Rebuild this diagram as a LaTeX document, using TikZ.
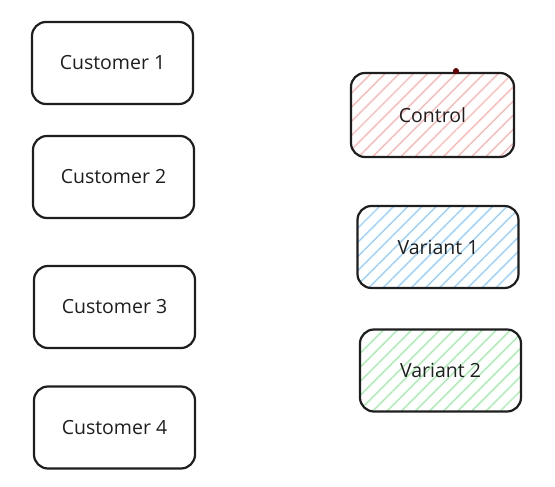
\documentclass[tikz,border=0pt]{standalone}
\usepackage{fontspec}
\setmainfont{Open Sans}
\usetikzlibrary{patterns.meta}
\definecolor{ink}{HTML}{1E1E1E}
\definecolor{redfill}{HTML}{FFB8B8}
\definecolor{bluefill}{HTML}{9AD2FF}
\definecolor{greenfill}{HTML}{A6EFB0}
\begin{document}
\begin{tikzpicture}[x=1pt,y=-1pt,
                box/.style={rectangle,rounded corners=14pt,draw=ink,line width=2.2pt,
                    minimum width=161pt,minimum height=82pt,font=\fontsize{19.5}{22}\selectfont,text=ink},
                hatched/.style={box,pattern={Lines[angle=45,distance=10pt,line width=1.4pt]},pattern color=#1}
            ]
                \useasboundingbox (0,0) rectangle (555,487);
                \foreach \i/\x/\y in {1/112.5/63,2/113.5/177,3/114.5/307,4/114.5/427.5}
                    {
                    \node[box] (cust\i) at (\x,\y) {Customer \i};
                }
                \node[hatched=redfill,minimum width=163pt,minimum height=84pt] (control) at (432.5,115) {Control};
                \node[hatched=bluefill] (var1) at (438,247) {Variant 1};
                \node[hatched=greenfill] (var2) at (440.5,370.5) {Variant 2};
                \fill[red!40!black] (456,71) circle (3pt);
            \end{tikzpicture}
\end{document}
